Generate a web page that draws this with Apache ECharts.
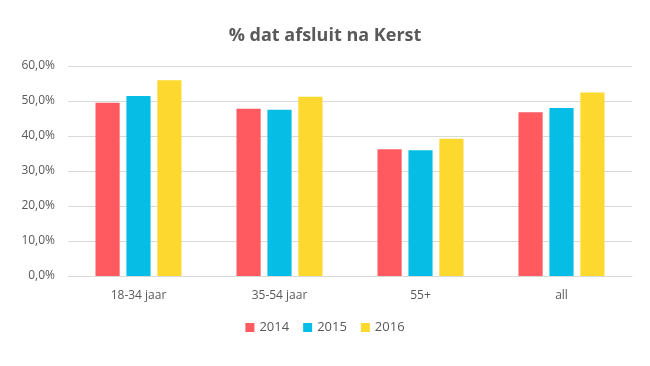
<!DOCTYPE html>
<html><head><meta charset="utf-8">
<script src="https://cdn.jsdelivr.net/npm/echarts@6/dist/echarts.min.js"></script>
<style>html,body{margin:0;padding:0;background:#fff}#c{width:650px;height:366px}</style>
</head><body><div id="c"></div>
<script>
const categories = ['18-34 jaar', '35-54 jaar', '55+', 'all'];
const seriesNames = ['2014', '2015', '2016'];
const v2014 = [49.5, 47.8, 36.2, 46.8];
const v2015 = [51.4, 47.5, 35.9, 48.0];
const v2016 = [55.9, 51.2, 39.2, 52.4];
const colors = ['#FF5A5F', '#06BDE6', '#FDD82E'];
const allValues = [v2014, v2015, v2016];

const chart = echarts.init(document.getElementById('c'));
chart.setOption({
  animation: false,
  textStyle: { fontFamily: 'Open Sans' },
  title: {
    text: '% dat afsluit na Kerst', left: 'center', top: 22,
    textStyle: { fontSize: 18, fontWeight: 'bold', color: '#595959', fontFamily: 'Open Sans' }
  },
  legend: {
    bottom: 27, left: 'center', itemWidth: 9, itemHeight: 9, itemGap: 14,
    icon: 'rect',
    textStyle: { fontSize: 13, color: '#595959' },
    data: seriesNames
  },
  grid: { left: 68, right: 18, top: 66, bottom: 90, containLabel: false },
  xAxis: {
    type: 'category', data: categories,
    axisLine: { lineStyle: { color: '#d9d9d9' } },
    axisTick: { show: false },
    axisLabel: { color: '#595959', fontSize: 12, margin: 14 }
  },
  yAxis: {
    type: 'value', min: 0, max: 60, interval: 10,
    axisLine: { show: false }, axisTick: { show: false },
    splitLine: { lineStyle: { color: '#d9d9d9' } },
    axisLabel: { color: '#595959', fontSize: 12, margin: 13,
      formatter: v => v.toFixed(1).replace('.', ',') + '%' }
  },
  series: seriesNames.map((n, i) => ({
    name: n, type: 'bar', data: allValues[i],
    itemStyle: { color: colors[i] },
    barGap: '28%', barCategoryGap: '39%'
  }))
});
</script></body></html>
